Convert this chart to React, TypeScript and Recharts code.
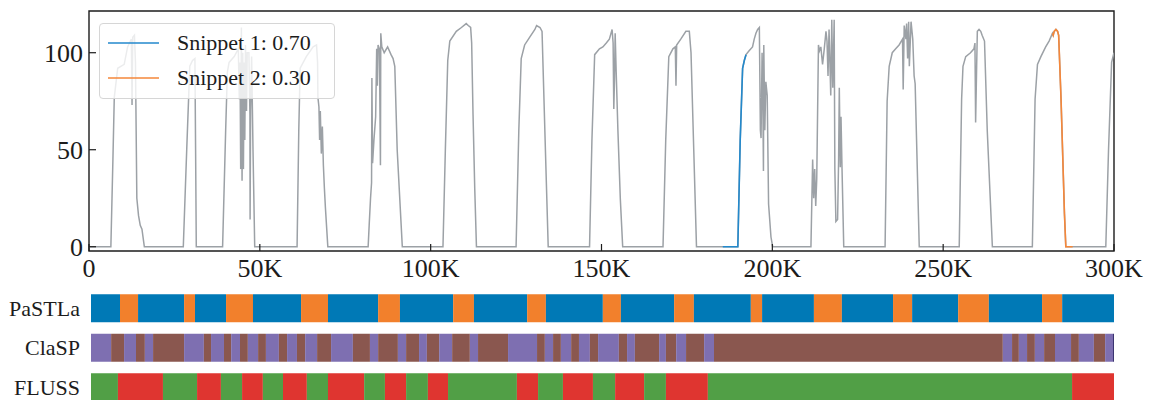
import { Bar, BarChart, Cell, Legend, Line, LineChart, ReferenceArea, XAxis, YAxis } from "recharts";

// signal, x in thousands of samples
const signal: [number, number][] = [
  [0, 0], [6.4, 0], [7.0, 45], [7.4, 77], [8.4, 92], [10.3, 94], [11.3, 103], [12.4, 107], [12.6, 73], [12.8, 108], [13.3, 109], [13.6, 95], [14.0, 25], [14.5, 16], [15.0, 11], [15.5, 9], [16.2, 0],
  [27.6, 0], [28.6, 50], [29.5, 93], [30.3, 96], [31.0, 97], [31.2, 50], [31.4, 0],
  [39.1, 0], [40.0, 60], [40.5, 90], [41.0, 95], [42.5, 98], [43.7, 102], [44.0, 76], [44.2, 95], [44.4, 40], [44.6, 113], [44.8, 34], [45.0, 100], [45.2, 40], [45.4, 95], [45.6, 55], [45.8, 104], [46.1, 70], [46.3, 100], [46.8, 100], [47.1, 68], [47.15, 14], [47.3, 70], [47.6, 98], [48.0, 50], [48.5, 0],
  [60.9, 0], [61.4, 60], [61.8, 92], [63.6, 98], [65.6, 103], [66.6, 104], [66.9, 95], [67.0, 77], [67.3, 72], [67.5, 55], [67.7, 70], [68.0, 48], [68.3, 62], [68.6, 42], [68.9, 30], [69.2, 20], [69.9, 0],
  [81.7, 0], [82.0, 11], [82.4, 25], [82.7, 33], [82.8, 87], [83.0, 43], [83.4, 55], [83.9, 67], [84.2, 102], [84.4, 83], [84.6, 104], [85.0, 102], [85.3, 42], [85.4, 110], [85.7, 103], [86.4, 100], [87.4, 103], [88.4, 99], [89.0, 97], [89.5, 93], [90.2, 50], [91.7, 0],
  [103.6, 0], [104.3, 50], [105.0, 96], [105.6, 106], [107.5, 111], [109, 113], [110.4, 115], [111, 114], [111.7, 113], [112.0, 105], [112.4, 68], [112.9, 30], [113.4, 0],
  [125.0, 0], [125.8, 60], [126.5, 97], [127.5, 104], [129, 108], [130.5, 112], [131.0, 114], [132, 113], [132.6, 111], [133.5, 55], [134.4, 0],
  [146.5, 0], [147.2, 55], [148.0, 99], [149.4, 102], [150.4, 103], [151.4, 105], [152.3, 107], [153.1, 112], [153.4, 105], [153.6, 71], [153.8, 86], [154.0, 110], [154.3, 90], [154.8, 60], [155.5, 25], [156.2, 0],
  [168.0, 0], [168.8, 55], [169.7, 98], [170.9, 102], [171.6, 103], [171.8, 83], [172.0, 104], [173.2, 107], [174.7, 111], [175.7, 111], [176.2, 100], [177.0, 50], [177.8, 0],
  [189.9, 0], [190.6, 55], [191.3, 92], [191.8, 96], [192.3, 99], [193.2, 101], [194.2, 103], [194.7, 107], [195.2, 110], [195.7, 112], [196.2, 113], [196.5, 60], [196.7, 56], [197.0, 100], [197.2, 80], [197.4, 39], [197.5, 104], [197.8, 60], [198.1, 85], [198.5, 78], [198.9, 22], [199.6, 5], [200.1, 0],
  [211.3, 0], [211.8, 45], [212.1, 25], [212.4, 40], [212.7, 21], [213.0, 35], [213.5, 104], [213.8, 101], [214.2, 103], [214.7, 94], [215.2, 102], [215.7, 111], [216.0, 106], [216.3, 88], [216.6, 112], [217.1, 78], [217.4, 117], [217.7, 82], [218.1, 117], [218.3, 40], [218.6, 13], [219.1, 14], [219.4, 45], [219.6, 82], [219.9, 41], [220.1, 67], [220.4, 40], [220.9, 0],
  [233.0, 0], [233.6, 75], [234.2, 93], [235.1, 100], [236.1, 102], [237.1, 104], [238.1, 107], [238.3, 81], [238.6, 114], [239.1, 107], [239.3, 115], [239.6, 97], [239.9, 116], [240.1, 93], [240.6, 116], [241.1, 107], [241.5, 88], [241.8, 84], [243.0, 0],
  [254.7, 0], [255.4, 76], [255.8, 93], [256.6, 98], [258.0, 100], [259.0, 102], [259.3, 105], [259.5, 64], [259.8, 93], [260.0, 111], [260.5, 112], [261.0, 111], [261.4, 109], [262.1, 106], [262.9, 60], [264.4, 0],
  [276.1, 0], [276.9, 76], [277.6, 94], [278.6, 98], [280.0, 103], [281.0, 106], [282.0, 110], [282.2, 109], [282.5, 111], [283.0, 112], [283.5, 111], [283.8, 109], [284.5, 76], [285.5, 17], [285.9, 0],
  [297.6, 0], [298.4, 50], [299.3, 95], [300, 100],
];

const snippet1: [number, number][] = [[185.5, 0], [189.9, 0], [190.6, 55], [191.3, 92], [191.8, 96], [192.3, 99]];
const snippet2: [number, number][] = [[282.0, 110], [282.2, 109], [282.5, 111], [283.0, 112], [283.5, 111], [283.8, 109], [284.5, 76], [285.5, 17], [285.9, 0], [287.9, 0]];
const snippetNames = ["Snippet 1: 0.70", "Snippet 2: 0.30"];
const snippetColors = ["#2389cc", "#f5873a"];

const xTicks = [0, 50, 100, 150, 200, 250, 300];
const xTickLabels = ["0", "50K", "100K", "150K", "200K", "250K", "300K"];
const yTicks = [0, 50, 100];

// segmentations: cut points (thousands) and one class letter per segment
const rowNames = ["PaSTLa", "ClaSP", "FLUSS"];
const pastlaCuts = [0, 8.5, 13.8, 27.3, 30.5, 39.6, 47.5, 61.6, 69.5, 84.2, 90.6, 106.2, 112.3, 127.9, 133.4, 150.1, 155.4, 171.0, 176.8, 193.5, 196.8, 212.0, 220.2, 235.2, 240.8, 254.3, 263.3, 278.9, 284.8, 300];
const pastlaClasses = "BOBOBOBOBOBOBOBOBOBOBOBOBOBOB";
const claspCuts = [0, 5.9, 9.7, 13.2, 15.8, 18.2, 27.3, 33.1, 35.2, 39.0, 41.1, 43.7, 46.0, 49.0, 51.3, 55.1, 57.5, 60.4, 62.8, 66.3, 70.4, 76.8, 81.8, 84.2, 90.0, 92.4, 96.2, 98.5, 102.1, 105.9, 111.1, 113.5, 122.3, 130.8, 133.1, 135.5, 137.8, 140.8, 143.1, 146.3, 148.7, 154.8, 157.2, 159.5, 166.6, 168.6, 171.6, 174.5, 179.8, 182.7, 267.4, 270.1, 272.1, 274.5, 276.8, 279.5, 282.7, 287.4, 289.7, 294.1, 297.4, 299.7, 300];
const claspClasses = "PNPNPNPNPNPNPNPNPNPNPNPNPNPNPNPNPNPNPNPNPNPNPNPNPNPNPNPNPNPNPD";
const flussCuts = [0, 7.9, 21.1, 31.1, 38.1, 44.3, 50.4, 56.3, 63.3, 69.5, 80.1, 86.2, 92.4, 98.8, 104.7, 124.9, 131.1, 138.4, 147.2, 153.7, 162.2, 168.6, 180.9, 287.7, 300];
const flussClasses = "GRGRGRGRGRGRGRGRGRGRGRGR";

const classColors: Record<string, string> = {
  B: "#0079b6",
  O: "#f2802c",
  P: "#7e6fb1",
  N: "#8a574f",
  D: "#3b3470",
  G: "#519f46",
  R: "#df3530",
};

const font = "'Liberation Serif', 'Times New Roman', serif";
const ink = "#1c1c1c";
const yMin = -2.2;
const yMax = 121.5;

const signalRows = signal.map(([k, v]) => ({ k, v }));
const snippetRows = [snippet1, snippet2].map((s) => s.map(([k, v]) => ({ k, v })));

const segRows = [
  { cuts: pastlaCuts, classes: pastlaClasses },
  { cuts: claspCuts, classes: claspClasses },
  { cuts: flussCuts, classes: flussClasses },
];
const maxSegs = Math.max(...segRows.map((r) => r.classes.length));
const barRows = segRows.map((r, i) => {
  const row: Record<string, string | number> = { name: rowNames[i] };
  for (let s = 0; s < r.cuts.length - 1; s++) row[`s${s}`] = r.cuts[s + 1] - r.cuts[s];
  return row;
});

function SnippetLegend() {
  return (
    <div
      style={{
        position: "relative",
        width: 236,
        height: 76,
        boxSizing: "border-box",
        border: "1px solid #d6d6d6",
        borderRadius: 4,
        background: "rgba(255,255,255,0.8)",
        fontFamily: font,
        fontSize: 22,
        color: ink,
      }}
    >
      {snippetNames.map((name, i) => (
        <div key={name} style={{ position: "absolute", left: 0, top: 5 + i * 35, height: 28, width: "100%" }}>
          <svg width={60} height={28} style={{ position: "absolute", left: 0, top: 0 }}>
            <line x1={8} x2={59} y1={14} y2={14} stroke={snippetColors[i]} strokeWidth={1.6} />
          </svg>
          <div style={{ position: "absolute", left: 77, top: 0, lineHeight: "28px", whiteSpace: "nowrap" }}>{name}</div>
        </div>
      ))}
    </div>
  );
}

export default function App() {
  return (
    <div style={{ position: "absolute", left: 0, top: 0, width: 1152, height: 400, overflow: "hidden", background: "#fff" }}>
      <div style={{ position: "absolute", left: 0, top: 0 }}>
        <LineChart width={1152} height={290} data={signalRows} margin={{ top: 11, right: 38, bottom: 9, left: 0 }}>
          <XAxis
            dataKey="k"
            type="number"
            domain={[0, 300]}
            allowDataOverflow
            ticks={xTicks}
            tickFormatter={(v: number) => xTickLabels[xTicks.indexOf(v)]}
            height={30}
            axisLine={false}
            tickLine={{ stroke: ink, strokeWidth: 1.2 }}
            tickSize={-7}
            tickMargin={15}
            tick={{ fill: ink, fontSize: 26, fontFamily: font }}
          />
          <YAxis
            type="number"
            domain={[yMin, yMax]}
            allowDataOverflow
            ticks={yTicks}
            width={89}
            axisLine={false}
            tickLine={{ stroke: ink, strokeWidth: 1.2 }}
            tickSize={-7}
            tickMargin={13}
            tick={{ fill: ink, fontSize: 26, fontFamily: font }}
          />
          <Legend
            layout="horizontal"
            verticalAlign="middle"
            align="center"
            wrapperStyle={{ left: 99, top: 23, width: 236, height: 76, zIndex: 5 }}
            content={<SnippetLegend />}
          />
          <Line dataKey="v" stroke="#9ca1a6" strokeWidth={1.5} dot={false} type="linear" legendType="none" isAnimationActive={false} />
          {snippetRows.map((rows, i) => (
            <Line
              key={snippetNames[i]}
              data={rows}
              dataKey="v"
              name={snippetNames[i]}
              stroke={snippetColors[i]}
              strokeWidth={1.6}
              dot={false}
              type="linear"
              isAnimationActive={false}
            />
          ))}
          <ReferenceArea x1={0} x2={300} y1={yMin} y2={yMax} fill="none" stroke={ink} strokeWidth={1.4} />
        </LineChart>
      </div>
      <div style={{ position: "absolute", left: 0, top: 280 }}>
        <BarChart width={1152} height={130} data={barRows} layout="vertical" margin={{ top: 8.25, right: 38, bottom: 3.25, left: 0 }} barSize={28}>
          <XAxis type="number" domain={[0, 300]} hide allowDataOverflow />
          <YAxis
            type="category"
            dataKey="name"
            width={91}
            axisLine={false}
            tickLine={false}
            tickSize={0}
            tickMargin={11}
            tick={{ fill: ink, fontSize: 22, fontFamily: font }}
          />
          {Array.from({ length: maxSegs }, (_, s) => (
            <Bar key={s} dataKey={`s${s}`} stackId="seg" isAnimationActive={false}>
              {segRows.map((r, i) => (
                <Cell key={i} fill={classColors[r.classes[s]] || "none"} />
              ))}
            </Bar>
          ))}
        </BarChart>
      </div>
    </div>
  );
}
